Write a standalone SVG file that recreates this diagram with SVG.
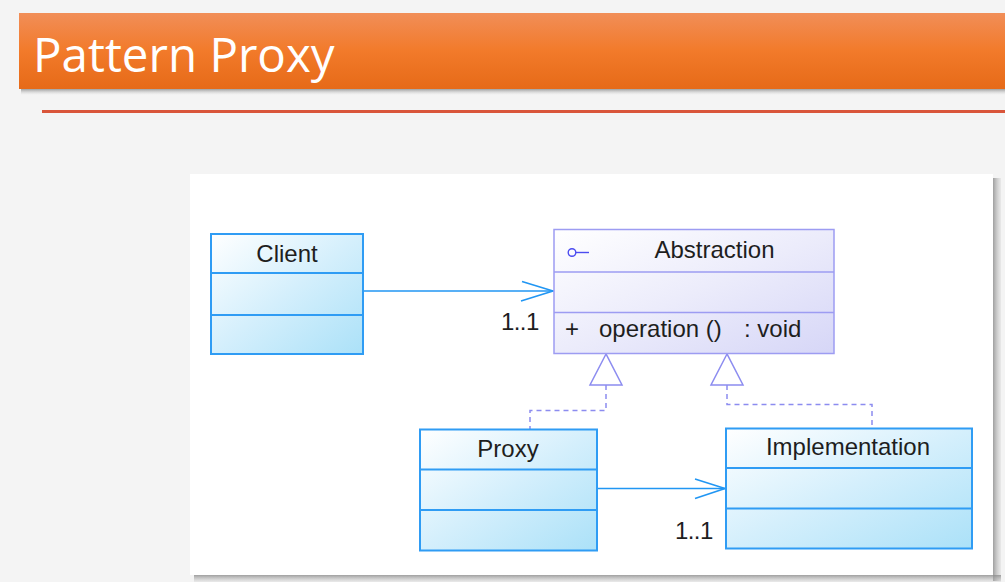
<svg xmlns="http://www.w3.org/2000/svg" width="1005" height="582" viewBox="0 0 1005 582">
  <defs>
    <linearGradient id="banner" x1="0" y1="0" x2="0" y2="1">
      <stop offset="0" stop-color="#f18e58"/>
      <stop offset="0.5" stop-color="#f27a2a"/>
      <stop offset="1" stop-color="#e66a18"/>
    </linearGradient>
    <linearGradient id="cls" x1="0" y1="0" x2="1" y2="1">
      <stop offset="0" stop-color="#ffffff"/>
      <stop offset="0.5" stop-color="#d4effc"/>
      <stop offset="1" stop-color="#abe1f8"/>
    </linearGradient>
    <linearGradient id="abs" x1="0" y1="0" x2="1" y2="1">
      <stop offset="0" stop-color="#ffffff"/>
      <stop offset="0.5" stop-color="#ececfb"/>
      <stop offset="1" stop-color="#d6d6f7"/>
    </linearGradient>
    <linearGradient id="shadowV" x1="0" y1="0" x2="0" y2="1">
      <stop offset="0" stop-color="#8a8a8a" stop-opacity="0.8"/>
      <stop offset="1" stop-color="#bdbdbd" stop-opacity="0.2"/>
    </linearGradient>
    <linearGradient id="shadowH" x1="0" y1="0" x2="1" y2="0">
      <stop offset="0" stop-color="#8a8a8a" stop-opacity="0.8"/>
      <stop offset="1" stop-color="#bdbdbd" stop-opacity="0.2"/>
    </linearGradient>
    <linearGradient id="bannerShadow" x1="0" y1="0" x2="0" y2="1">
      <stop offset="0" stop-color="#7a7a7a" stop-opacity="0.7"/>
      <stop offset="1" stop-color="#cccccc" stop-opacity="0"/>
    </linearGradient>
  </defs>
  <style>
    .cbox { fill: url(#cls); stroke: #2f9cf4; stroke-width: 2; }
    .cline { stroke: #2f9cf4; stroke-width: 2; }
    .abox { fill: url(#abs); stroke: #9d9cf2; stroke-width: 1.5; }
    .aline { stroke: #9d9cf2; stroke-width: 1.5; }
    .lbl { font-family: "Liberation Sans", Arial, sans-serif; font-size: 24px; fill: #1e1e1e; }
    .assoc { stroke: #2196f3; stroke-width: 1.6; fill: none; }
    .real { stroke: #8c8cf0; stroke-width: 1.5; fill: none; stroke-dasharray: 5 4; }
    .tri { stroke: #8c8cf0; stroke-width: 1.5; fill: #ffffff; }
  </style>

  <!-- background -->
  <rect x="0" y="0" width="1005" height="582" fill="#f4f4f4"/>

  <!-- title banner -->
  <g id="title">
    <rect x="21" y="89" width="984" height="6" fill="url(#bannerShadow)"/>
    <rect x="19" y="13" width="986" height="76" fill="url(#banner)"/>
    <text x="33" y="72" font-family="'Open Sans', 'Noto Sans', sans-serif" font-size="47.5" fill="#ffffff">Pattern Proxy</text>
    <rect x="42" y="110" width="963" height="3" fill="#d9553a"/>
  </g>

  <!-- diagram panel -->
  <g id="panel">
    <rect x="993" y="178" width="8" height="403" fill="url(#shadowH)"/>
    <rect x="194" y="575" width="807" height="7" fill="url(#shadowV)"/>
    <rect x="190" y="174" width="803" height="401" fill="#ffffff"/>
  </g>

  <!-- connectors -->
  <g id="connectors">
    <line class="assoc" x1="363" y1="291" x2="553" y2="291"/>
    <polyline class="assoc" points="522,281.5 553,291 521,301"/>
    <line class="assoc" x1="597" y1="488.5" x2="725" y2="488.5"/>
    <polyline class="assoc" points="695,479 725,488.5 695,498.5"/>
    <polyline class="real" points="606,385 606,410.5 530,410.5 530,429"/>
    <polyline class="real" points="727,385 727,404.5 872,404.5 872,428"/>
    <polygon class="tri" points="606,354 590,385 622,385"/>
    <polygon class="tri" points="727,354 711,385 743,385"/>
    <text class="lbl" x="501" y="330" style="letter-spacing:-0.6px">1..1</text>
    <text class="lbl" x="675" y="539" style="letter-spacing:-0.6px">1..1</text>
  </g>

  <!-- Client -->
  <g id="client">
    <rect class="cbox" x="211" y="234" width="152" height="120"/>
    <line class="cline" x1="211" y1="273" x2="363" y2="273"/>
    <line class="cline" x1="211" y1="315" x2="363" y2="315"/>
    <text class="lbl" x="287" y="262" text-anchor="middle">Client</text>
  </g>

  <!-- Abstraction -->
  <g id="abstraction">
    <rect class="abox" x="554" y="229.5" width="280" height="124"/>
    <line class="aline" x1="554" y1="272" x2="834" y2="272"/>
    <line class="aline" x1="554" y1="312.5" x2="834" y2="312.5"/>
    <circle cx="572" cy="252.5" r="3.8" fill="none" stroke="#4b4bf0" stroke-width="1.4"/>
    <line x1="576" y1="252.5" x2="589" y2="252.5" stroke="#4b4bf0" stroke-width="1.4"/>
    <text class="lbl" x="714.5" y="258" text-anchor="middle">Abstraction</text>
    <text class="lbl" x="565" y="337">+</text>
    <text class="lbl" x="599" y="337">operation ()</text>
    <text class="lbl" x="744" y="337">: void</text>
  </g>

  <!-- Proxy -->
  <g id="proxy">
    <rect class="cbox" x="420" y="429.5" width="177" height="121"/>
    <line class="cline" x1="420" y1="469.5" x2="597" y2="469.5"/>
    <line class="cline" x1="420" y1="510" x2="597" y2="510"/>
    <text class="lbl" x="508" y="457" text-anchor="middle">Proxy</text>
  </g>

  <!-- Implementation -->
  <g id="implementation">
    <rect class="cbox" x="726" y="428.5" width="246" height="120"/>
    <line class="cline" x1="726" y1="468" x2="972" y2="468"/>
    <line class="cline" x1="726" y1="508.5" x2="972" y2="508.5"/>
    <text class="lbl" x="848" y="455" text-anchor="middle">Implementation</text>
  </g>
</svg>
